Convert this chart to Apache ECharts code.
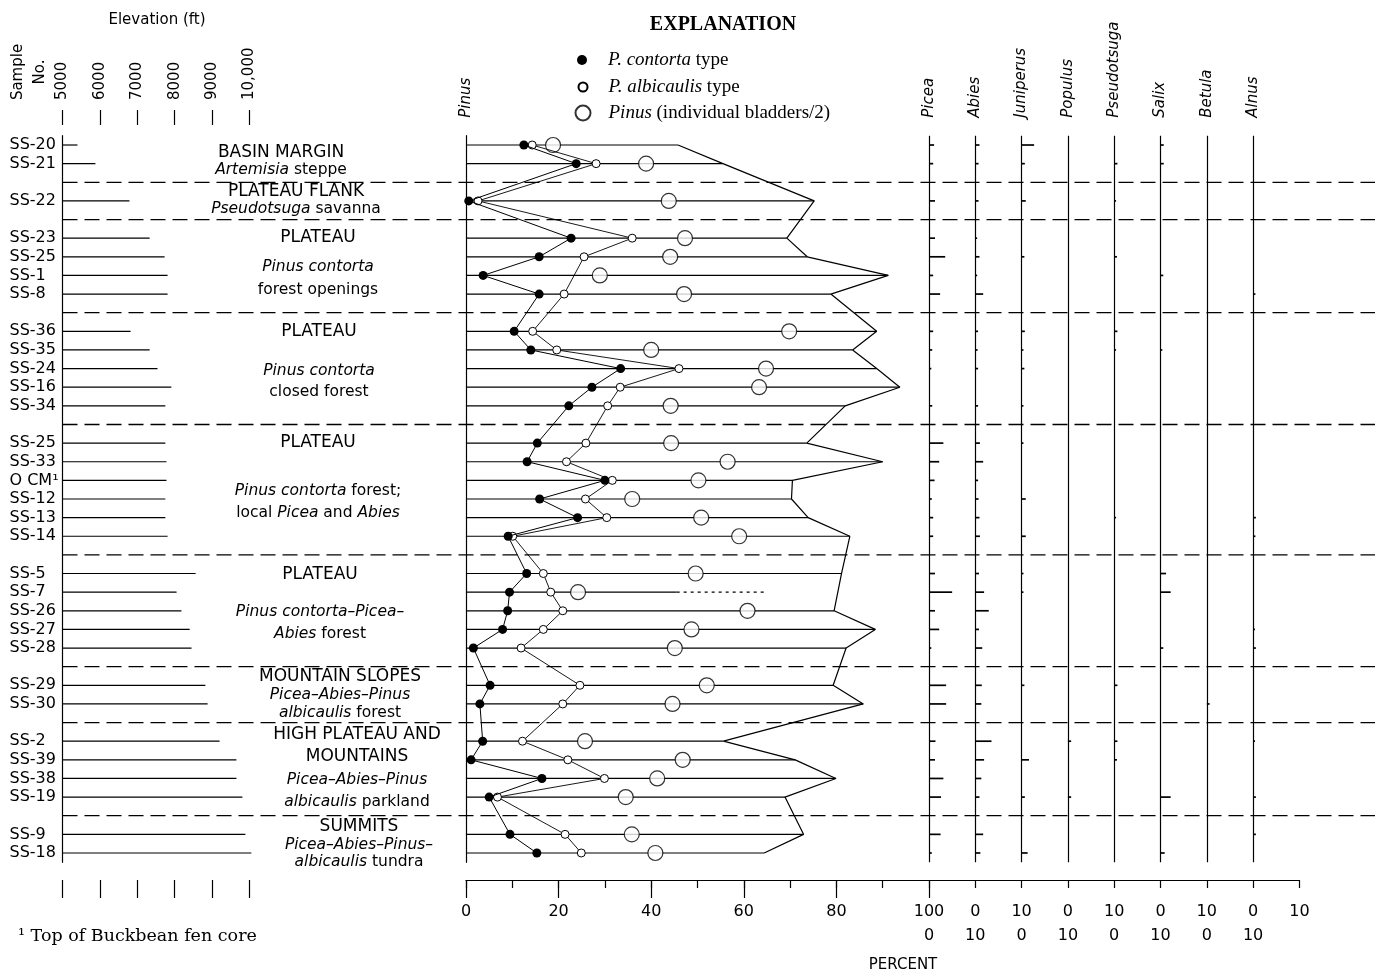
<!DOCTYPE html>
<html><head><meta charset="utf-8">
<script src="https://cdn.jsdelivr.net/npm/echarts@6/dist/echarts.min.js"></script>
<style>html,body{margin:0;padding:0;background:#fff}#c{width:1375px;height:971px}</style>
</head><body><div id="c"></div>
<script>
// ---------------- data ----------------
const samples = ['SS-20','SS-21','SS-22','SS-23','SS-25','SS-1','SS-8','SS-36','SS-35','SS-24','SS-16','SS-34',
  'SS-25','SS-33','O CM\u00b9','SS-12','SS-13','SS-14','SS-5','SS-7','SS-26','SS-27','SS-28','SS-29','SS-30',
  'SS-2','SS-39','SS-38','SS-19','SS-9','SS-18'];
const zoneSizes = [2,1,4,5,6,5,2,4,2];
const elevationFt = [5400,5880,6790,7330,7730,7810,7810,6820,7330,7540,7910,7750,7750,7780,7780,7750,7750,7810,
  8560,8050,8180,8400,8450,8820,8880,9200,9650,9650,9810,9890,10050];
const contorta = [12.5,23.8,0.6,22.7,15.8,3.7,15.8,10.4,14.0,33.4,27.2,22.2,15.4,13.2,30.0,15.9,24.1,9.1,
  13.1,9.4,9.0,7.9,1.6,5.2,3.0,3.6,1.1,16.4,5.0,9.5,15.3];
const albicaulis = [14.3,28.1,2.6,35.9,25.5,null,21.2,14.4,19.6,46.0,33.3,30.6,25.9,21.7,31.6,25.8,30.4,10.1,
  16.7,18.3,20.9,16.7,11.9,24.6,20.9,12.2,22.0,29.9,6.8,21.4,24.9];
const bladders = [18.8,38.9,43.8,47.3,44.1,28.9,47.1,69.8,40.0,64.8,63.3,44.2,44.3,56.5,50.2,35.9,50.8,59.0,
  49.6,24.2,60.8,48.7,45.1,52.0,44.6,25.7,46.8,41.3,34.5,35.8,40.9];
const pinusTotal = [45.8,55.5,75.2,69.3,73.7,91.2,78.8,88.7,83.5,88.7,93.7,81.9,73.6,90.0,70.5,70.3,73.9,82.9,
  81.1,64.4,79.5,88.4,82.1,79.3,85.8,55.6,71.1,79.9,68.9,72.9,64.4];
const uncertainRows = [19];        // SS-7: total only partly certain
const uncertainSolidTo = [45.5];

const taxa = ['Picea','Abies','Juniperus','Populus','Pseudotsuga','Salix','Betula','Alnus'];
const picea = [1.1,0.9,1.3,1.3,3.5,0.9,2.4,0.9,0.7,0.5,0,0.7,3.1,2.2,1.2,0.6,0.9,0.9,1.3,5.0,1.3,2.2,0.5,3.7,3.7,1.4,1.3,3.1,2.6,2.5,0.6];
const abies = [0.9,0.7,0.7,0.4,0.9,0.4,1.7,0.6,0.5,0.6,0,0.6,1.0,1.7,0.6,0.7,0.9,1.0,0.8,1.9,2.9,0.8,1.5,1.4,1.3,3.5,1.9,1.3,0.9,1.7,1.1];
const juniperus = [2.7,0.7,0.9,0,0.6,0,0,0.7,0.4,0.6,0,0.4,0.4,0,0,0.9,0,0.9,0.4,0.4,0,0,0,0.6,0,0,1.6,0,0.7,0,1.3];
const populus = [0,0,0,0,0,0,0,0,0,0,0,0,0,0,0,0,0,0,0,0,0,0,0,0,0,0.7,0,0,0.7,0,0];
const pseudotsuga = [0,0.7,0.4,0,0.6,0,0,0.7,0.4,0,0,0,0,0,0,0,0.4,0,0,0,0,0,0,0.7,0,0.7,0.6,0,0,0,0];
const salix = [0.7,0.7,0,0,0,0.6,0,0,0.4,0,0,0,0,0,0,0,0,0,1.2,2.2,0,0,0.6,0,0,0,0,0,2.2,0,0.9];
const betula = [0,0,0,0,0,0,0,0,0,0,0,0,0,0,0,0,0,0,0,0,0,0,0,0,0.6,0,0,0,0,0,0];
const alnus = [0,0,0,0,0,0,0.5,0,0,0,0,0,0,0,0,0,0.6,0.5,0,0,0,0.4,0.6,0,0,0.4,0,0,0.6,0.6,0];
const taxaValues = [picea, abies, juniperus, populus, pseudotsuga, salix, betula, alnus];

const elevTicks = [5000,6000,7000,8000,9000,10000];
const elevLabels = ['5000','6000','7000','8000','9000','10,000'];
const bottomLabels = {0:'0',20:'20',40:'40',60:'60',80:'80',100:'100\n0',110:'0\n10',120:'10\n0',
  130:'0\n10',140:'10\n0',150:'0\n10',160:'10\n0',170:'0\n10',180:'10'};

// ---------------- layout ----------------
const F = 'DejaVu Sans', SERIF = 'Liberation Serif';
const T = 135.7, H = 726.6;
const slotOf = [], sepSlots = [], slotNames = [];
{ let s = 0, k = 0;
  zoneSizes.forEach((n, zi) => {
    if (zi > 0) { sepSlots.push(s); slotNames.push(''); s++; }
    for (let j = 0; j < n; j++) { slotOf.push(s); slotNames.push(samples[k]); k++; s++; }
  });
}
const slotKeys = slotNames.map((_, i) => 'r' + i);
const headerAt = {0: 'Pinus'}; taxa.forEach((t, k) => headerAt[100 + 10 * k] = t);

const catY = (gridIndex, extra) => Object.assign({
  type: 'category', gridIndex, data: slotKeys, inverse: true, boundaryGap: true,
  axisTick: {show: false}, axisLabel: {show: false}, axisLine: {show: false}, splitLine: {show: false}
}, extra || {});

const black = '#000';
const zoneNotes = [
  {x: 281, lines: [['BASIN MARGIN', 153, 1], ['{i|Artemisia} steppe', 170]]},
  {x: 296, lines: [['PLATEAU FLANK', 192, 1], ['{i|Pseudotsuga} savanna', 209]]},
  {x: 318, lines: [['PLATEAU', 238, 1], ['{i|Pinus contorta}', 267], ['forest openings', 290]]},
  {x: 319, lines: [['PLATEAU', 332, 1], ['{i|Pinus contorta}', 371], ['closed forest', 392]]},
  {x: 318, lines: [['PLATEAU', 443, 1], ['{i|Pinus contorta} forest;', 491], ['local {i|Picea} and {i|Abies}', 513]]},
  {x: 320, lines: [['PLATEAU', 575, 1], ['{i|Pinus contorta\u2013Picea\u2013}', 612], ['{i|Abies} forest', 634]]},
  {x: 340, lines: [['MOUNTAIN SLOPES', 677, 1], ['{i|Picea\u2013Abies\u2013Pinus}', 695], ['{i|albicaulis} forest', 713]]},
  {x: 357, lines: [['HIGH PLATEAU AND', 735, 1], ['MOUNTAINS', 757, 1], ['{i|Picea\u2013Abies\u2013Pinus}', 780], ['{i|albicaulis} parkland', 802]]},
  {x: 359, lines: [['SUMMITS', 827, 1], ['{i|Picea\u2013Abies\u2013Pinus\u2013}', 845], ['{i|albicaulis} tundra', 862]]}
];
const graphics = [];
zoneNotes.forEach(z => z.lines.forEach(([txt, y, caps]) => {
  const fs = caps ? 17 : 15.5;
  graphics.push({type: 'text', x: z.x, y, silent: true, style: {
    text: txt, fill: black, fontFamily: F, fontSize: fs, align: 'center', verticalAlign: 'middle',
    rich: {i: {fontStyle: 'italic', fontFamily: F, fontSize: fs, fill: black}}}});
}));
graphics.push(
  {type: 'text', x: 157, y: 20, silent: true, style: {text: 'Elevation (ft)', fill: black, fontFamily: F, fontSize: 15, align: 'center', verticalAlign: 'middle'}},
  {type: 'text', x: 29, y: 72, rotation: Math.PI / 2, silent: true, style: {text: 'Sample\nNo.', fill: black, fontFamily: F, fontSize: 15, lineHeight: 22, align: 'center', verticalAlign: 'middle'}},
  {type: 'text', x: 903, y: 965, silent: true, style: {text: 'PERCENT', fill: black, fontFamily: F, fontSize: 15, align: 'center', verticalAlign: 'middle'}},
  {type: 'text', x: 18, y: 936, silent: true, style: {text: '\u00b9 Top of Buckbean fen core', fill: black, fontFamily: 'DejaVu Serif', fontSize: 17.5, align: 'left', verticalAlign: 'middle'}},
  {type: 'text', x: 723, y: 25, silent: true, style: {text: 'EXPLANATION', fill: black, fontFamily: SERIF, fontWeight: 'bold', fontSize: 20, align: 'center', verticalAlign: 'middle'}}
);

const legendText = {fontFamily: SERIF, fontSize: 19, color: black, lineHeight: 22,
  rich: {s: {width: 16, fontSize: 19, fontFamily: SERIF}, s2: {width: 13, fontSize: 19, fontFamily: SERIF},
         i: {fontStyle: 'italic', fontFamily: SERIF, fontSize: 19, color: black}}};
const mkLegend = (name, top, left, size, fmt) => ({
  data: [name], top, left, orient: 'vertical', icon: 'circle', itemWidth: size, itemHeight: size,
  padding: 0, selectedMode: false, formatter: () => fmt, textStyle: legendText
});

const option = {
  animation: false,
  backgroundColor: '#fff',
  grid: [
    {left: 62.5, top: T, width: 187, height: H, outerBoundsMode: 'none'},
    {left: 466, top: T, width: 833.4, height: H, outerBoundsMode: 'none'},
    {left: 466, top: T, width: 463, height: H, outerBoundsMode: 'none'},
    {left: 62.5, top: T, width: 1312.5, height: H, outerBoundsMode: 'none'}
  ],
  xAxis: [
    {type: 'value', gridIndex: 0, position: 'top', min: 5000, max: 10000, interval: 1000, offset: 10.7,
     axisLine: {show: false}, splitLine: {show: false},
     axisTick: {show: true, length: 15, lineStyle: {color: black, width: 1.2}},
     axisLabel: {rotate: -90, margin: 25, color: black, fontFamily: F, fontSize: 15, showMinLabel: true, showMaxLabel: true,
       formatter: v => elevLabels[elevTicks.indexOf(v)] || ''}},
    {type: 'value', gridIndex: 0, position: 'bottom', min: 5000, max: 10000, interval: 1000, offset: 17.7,
     axisLine: {show: false}, splitLine: {show: false}, axisLabel: {show: false},
     axisTick: {show: true, length: 18, lineStyle: {color: black, width: 1.2}}},
    {type: 'value', gridIndex: 1, position: 'bottom', min: 0, max: 180, interval: 10, offset: 17.7,
     axisLine: {show: true, onZero: false, lineStyle: {color: black, width: 1.2}}, splitLine: {show: false},
     axisTick: {show: true, length: 8, lineStyle: {color: black, width: 1.2}},
     axisLabel: {margin: 20, lineHeight: 24, color: black, fontFamily: F, fontSize: 16, showMinLabel: true, showMaxLabel: true,
       formatter: v => bottomLabels[v] || ''}},
    {type: 'value', gridIndex: 1, position: 'top', min: 0, max: 180, interval: 10,
     axisLine: {show: false}, axisTick: {show: false}, splitLine: {show: false},
     axisLabel: {rotate: -90, margin: 18, color: black, fontFamily: F, fontSize: 15, fontStyle: 'italic',
       showMinLabel: true, showMaxLabel: true, formatter: v => headerAt[v] || ''}},
    {type: 'value', gridIndex: 2, position: 'bottom', min: 0, max: 100, interval: 20, offset: 17.7,
     axisLine: {show: false}, splitLine: {show: false}, axisLabel: {show: false},
     axisTick: {show: true, length: 18, lineStyle: {color: black, width: 1.2}}},
    {type: 'value', gridIndex: 3, min: 0, max: 1, show: false}
  ],
  yAxis: [
    catY(0, {axisLine: {show: true, lineStyle: {color: black, width: 1.2}},
      axisLabel: {show: true, interval: 0, align: 'left', margin: 53, color: black, fontFamily: F, fontSize: 16,
        formatter: (v, i) => slotNames[i]}}),
    catY(1, {axisLine: {show: true, lineStyle: {color: black, width: 1.2}}}),
    catY(2),
    catY(3, {show: false})
  ],
  legend: [
    mkLegend('contorta', 49, 577, 10, '{s| }{i|P. contorta} type'),
    mkLegend('albicaulis', 76, 577.5, 9, '{s| }{i|P. albicaulis} type'),
    mkLegend('bladders', 102, 574.5, 15, '{s2| }{i|Pinus} (individual bladders/2)')
  ],
  graphic: graphics,
  series: [
    // elevation bars
    {type: 'custom', xAxisIndex: 0, yAxisIndex: 0, silent: true,
     data: samples.map((_, i) => [elevationFt[i], slotOf[i]]),
     renderItem(params, api) {
       const p = api.coord([api.value(0), api.value(1)]);
       return {type: 'line', shape: {x1: params.coordSys.x, y1: p[1], x2: p[0], y2: p[1]},
               style: {stroke: black, lineWidth: 1.2}};
     }},
    // zone separators
    {type: 'custom', xAxisIndex: 5, yAxisIndex: 3, silent: true,
     data: sepSlots.map(s => [0, s]),
     renderItem(params, api) {
       const p = api.coord([0, api.value(1)]);
       const cs = params.coordSys;
       return {type: 'line', shape: {x1: cs.x, y1: p[1], x2: cs.x + cs.width, y2: p[1]},
               style: {stroke: black, lineWidth: 1.3, lineDash: [15, 7]}};
     }},
    // Pinus row lines
    {type: 'custom', xAxisIndex: 2, yAxisIndex: 1, silent: true, z: 2,
     data: samples.map((_, i) => {
       const u = uncertainRows.indexOf(i);
       return [pinusTotal[i], slotOf[i], u >= 0 ? uncertainSolidTo[u] : pinusTotal[i]];
     }),
     renderItem(params, api) {
       const y = api.value(1);
       const p0 = api.coord([0, y]), p1 = api.coord([api.value(2), y]), p2 = api.coord([api.value(0), y]);
       const children = [{type: 'line', shape: {x1: p0[0], y1: p0[1], x2: p1[0], y2: p1[1]}, style: {stroke: black, lineWidth: 1.2}}];
       if (api.value(2) !== api.value(0)) children.push({type: 'line', shape: {x1: p1[0], y1: p1[1], x2: p2[0], y2: p2[1]},
         style: {stroke: black, lineWidth: 1.2, lineDash: [3, 4]}});
       return {type: 'group', children};
     }},
    // total Pinus envelope
    {type: 'line', xAxisIndex: 2, yAxisIndex: 1, silent: true, z: 2, symbol: 'none', connectNulls: true,
     lineStyle: {color: black, width: 1.2},
     data: samples.map((_, i) => [uncertainRows.indexOf(i) >= 0 ? '-' : pinusTotal[i], slotOf[i]])},
    // other taxa bars + baselines
    {type: 'custom', xAxisIndex: 2, yAxisIndex: 1, silent: true, z: 3,
     data: (() => { const d = []; taxaValues.forEach((arr, k) => arr.forEach((v, i) => { if (v > 0) d.push([k, v, slotOf[i]]); })); return d; })(),
     renderItem(params, api) {
       const base = 100 + 10 * api.value(0);
       const p0 = api.coord([base, api.value(2)]), p1 = api.coord([base + api.value(1), api.value(2)]);
       return {type: 'line', shape: {x1: p0[0], y1: p0[1], x2: p1[0], y2: p1[1]}, style: {stroke: black, lineWidth: 1.7}};
     },
     markLine: {silent: true, symbol: ['none', 'none'], label: {show: false}, animation: false,
       lineStyle: {color: black, width: 1.2, type: 'solid'},
       data: taxa.map((t, k) => ({xAxis: 100 + 10 * k}))}},
    // P. contorta
    {name: 'contorta', type: 'line', xAxisIndex: 2, yAxisIndex: 1, z: 6, silent: true,
     symbol: 'circle', symbolSize: 9, showAllSymbol: true, connectNulls: true,
     itemStyle: {color: black}, lineStyle: {color: black, width: 1},
     data: samples.map((_, i) => [contorta[i], slotOf[i]])},
    // P. albicaulis
    {name: 'albicaulis', type: 'line', xAxisIndex: 2, yAxisIndex: 1, z: 5, silent: true,
     symbol: 'circle', symbolSize: 8, showAllSymbol: true, connectNulls: true,
     itemStyle: {color: '#fff', borderColor: black, borderWidth: 1}, lineStyle: {color: black, width: 0.9},
     data: samples.map((_, i) => [albicaulis[i] == null ? '-' : albicaulis[i], slotOf[i]])},
    // Pinus bladders / 2
    {name: 'bladders', type: 'scatter', xAxisIndex: 2, yAxisIndex: 1, z: 4, silent: true,
     symbol: 'circle', symbolSize: 15,
     itemStyle: {color: '#fff', borderColor: black, borderWidth: 1.2},
     data: samples.map((_, i) => [bladders[i], slotOf[i]])}
  ]
};
const chart = echarts.init(document.getElementById('c'));
chart.setOption(option);
</script>
</body></html>
